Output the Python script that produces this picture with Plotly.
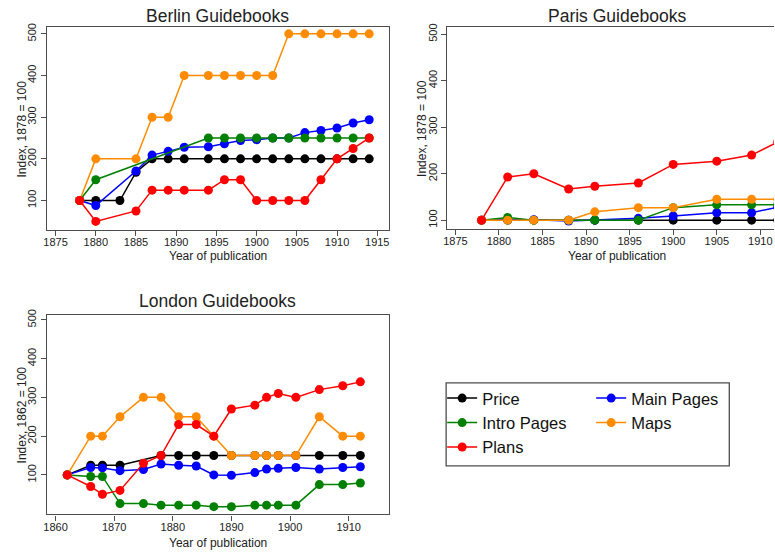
import plotly.graph_objects as go

# ---- Berlin guidebooks (index, 1878 = 100) ----
berlin_years = [1878, 1880, 1883, 1885, 1887, 1889, 1891, 1894, 1896, 1898,
                1900, 1902, 1904, 1906, 1908, 1910, 1912, 1914]
berlin_price = [100, 100, 100, 168, 200, 200, 200, 200, 200, 200,
                200, 200, 200, 200, 200, 200, 200, 200]
berlin_main = [100, 88, None, 171, 209, 218, 228, 229, 236, 244,
               246, 250, 250, 263, 268, 274, 286, 294]
berlin_intro = [100, 150, None, None, None, None, None, 250, 250, 250,
                250, 250, 250, 250, 250, 250, 250, 250]
berlin_maps = [100, 200, None, 200, 300, 300, 400, 400, 400, 400,
               400, 400, 500, 500, 500, 500, 500, 500]
berlin_plans = [100, 50, None, 75, 125, 125, 125, 125, 150, 150,
                100, 100, 100, 100, 150, 200, 225, 250]

# ---- Paris guidebooks (index, 1878 = 100) ----
paris_years = [1878, 1881, 1884, 1888, 1891, 1896, 1900, 1905, 1909, 1912]
paris_price = [100, 100, 100, 100, 100, 100, 100, 100, 100, 100]
paris_main = [100, 101, 101, 98, 100, 104, 109, 116, 116, 128]
paris_intro = [100, 106, 100, 100, 100, 100, 127, 133, 133, 133]
paris_maps = [100, 100, 100, 100, 118, 127, 127, 145, 145, 145]
paris_plans = [100, 193, 200, 167, 173, 180, 220, 227, 240, 268]

# ---- London guidebooks (index, 1862 = 100) ----
london_years = [1862, 1866, 1868, 1871, 1875, 1878, 1881, 1884, 1887, 1890,
                1894, 1896, 1898, 1901, 1905, 1909, 1912]
london_price = [100, 125, 125, 125, None, 150, 150, 150, 150, 150,
                150, 150, 150, 150, 150, 150, 150]
london_main = [100, 119, 118, 111, 114, 128, 125, 123, 100, 99,
               106, 115, 117, 119, 115, 119, 121]
london_intro = [100, 96, 96, 26, 26, 22, 22, 22, 18, 18,
                22, 22, 22, 22, 75, 75, 79]
london_maps = [100, 200, 200, 250, 300, 300, 250, 250, 200, 150,
               150, 150, 150, 150, 250, 200, 200]
london_plans = [100, 70, 50, 60, 130, 150, 230, 230, 200, 270,
                280, 300, 310, 300, 320, 330, 340]

series_names = ["Price", "Main Pages", "Intro Pages", "Maps", "Plans"]
series_colors = ["#000000", "#0000ff", "#008000", "#ff8c00", "#ff0000"]
series_legend = ["legend", "legend2", "legend", "legend2", "legend"]

x_ticks_5 = [1875, 1880, 1885, 1890, 1895, 1900, 1905, 1910, 1915]
x_ticks_10 = [1860, 1870, 1880, 1890, 1900, 1910]
y_ticks = [100, 200, 300, 400, 500]

W, H = 775, 554
FONT = "Liberation Sans, Arial, sans-serif"
AXIS_GREY = "#4d4d4d"

fig = go.Figure()


def add_panel(years, values, xa, ya, show_legend):
    for name, color, leg, vals in zip(series_names, series_colors,
                                      series_legend, values):
        fig.add_trace(go.Scatter(
            x=years, y=vals, name=name, mode="lines+markers",
            connectgaps=True,
            line=dict(color=color, width=1.5),
            marker=dict(color=color, size=9),
            xaxis=xa, yaxis=ya,
            showlegend=show_legend, legend=leg,
        ))


add_panel(berlin_years,
          [berlin_price, berlin_main, berlin_intro, berlin_maps, berlin_plans],
          "x", "y", True)
add_panel(paris_years,
          [paris_price, paris_main, paris_intro, paris_maps, paris_plans],
          "x2", "y2", False)
add_panel(london_years,
          [london_price, london_main, london_intro, london_maps, london_plans],
          "x3", "y3", False)


def px_x(v):
    return v / W


def px_y(v):
    return 1 - v / H


axis_common = dict(
    showline=True, linecolor=AXIS_GREY, linewidth=1.3,
    ticks="outside", ticklen=5, tickwidth=1.2, tickcolor=AXIS_GREY,
    showgrid=False, zeroline=False,
    tickfont=dict(family=FONT, size=11, color="#222222"),
)

fig.update_layout(
    width=W, height=554,
    margin=dict(l=0, r=0, t=0, b=0),
    paper_bgcolor="white", plot_bgcolor="white",
    font=dict(family=FONT, color="#222222"),
    xaxis=dict(domain=[px_x(43), px_x(387)], range=[1873.9, 1916.4],
               tickvals=x_ticks_5, mirror=True, anchor="y",
               ticklabelstandoff=-3, **axis_common),
    yaxis=dict(domain=[px_y(226), px_y(21)], range=[30.4, 517],
               tickvals=y_ticks, tickangle=-90, mirror=True, anchor="x",
               **axis_common),
    xaxis2=dict(domain=[px_x(446), 1.0], range=[1874.05, 1911.57],
                tickvals=x_ticks_5, mirror=True, anchor="y2",
                ticklabelstandoff=-3, **axis_common),
    yaxis2=dict(domain=[px_y(225), px_y(21)], range=[82, 516],
                tickvals=y_ticks, tickangle=-90, mirror=False, anchor="x2",
                **axis_common),
    xaxis3=dict(domain=[px_x(43), px_x(387)], range=[1858.5, 1916.8],
                tickvals=x_ticks_10, mirror=True, anchor="y3",
                ticklabelstandoff=-3, **axis_common),
    yaxis3=dict(domain=[px_y(514), px_y(312)], range=[-2, 513.5],
                tickvals=y_ticks, tickangle=-90, mirror=True, anchor="x3",
                **axis_common),
    legend=dict(x=px_x(441), y=px_y(379), xanchor="left", yanchor="top",
                bgcolor="rgba(0,0,0,0)", borderwidth=0, tracegroupgap=0,
                font=dict(family=FONT, size=16.5, color="#111111")),
    legend2=dict(x=px_x(591), y=px_y(379), xanchor="left", yanchor="top",
                 bgcolor="rgba(0,0,0,0)", borderwidth=0, tracegroupgap=0,
                 font=dict(family=FONT, size=16.5, color="#111111")),
)

# frame around the two legend columns
fig.add_shape(type="rect", xref="paper", yref="paper",
              x0=px_x(445), x1=px_x(730), y0=px_y(465), y1=px_y(381),
              line=dict(color=AXIS_GREY, width=1.3), fillcolor="rgba(0,0,0,0)")

# panel titles
titles = [("Berlin Guidebooks", 215, 10), ("Paris Guidebooks", 617, 10),
          ("London Guidebooks", 215, 298.5)]
for text, cx, cy in titles:
    fig.add_annotation(text=text, x=px_x(cx), y=px_y(cy), xref="paper",
                       yref="paper", showarrow=False, xanchor="center",
                       yanchor="middle",
                       font=dict(family=FONT, size=17.5, color="#222222"))

# axis titles
x_titles = [(215, 253), (617, 253), (215, 543)]
for cx, cy in x_titles:
    fig.add_annotation(text="Year of publication", x=px_x(cx), y=px_y(cy),
                       xref="paper", yref="paper", showarrow=False,
                       xanchor="center", yanchor="middle",
                       font=dict(family=FONT, size=12, color="#222222"))

y_titles = [("Index, 1878 = 100", 18, 124), ("Index, 1878 = 100", 420, 124),
            ("Index, 1862 = 100", 18, 413)]
for text, cx, cy in y_titles:
    fig.add_annotation(text=text, x=px_x(cx), y=px_y(cy), xref="paper",
                       yref="paper", showarrow=False, textangle=-90,
                       xanchor="center", yanchor="middle",
                       font=dict(family=FONT, size=12, color="#222222"))

fig.write_html("out.html")
